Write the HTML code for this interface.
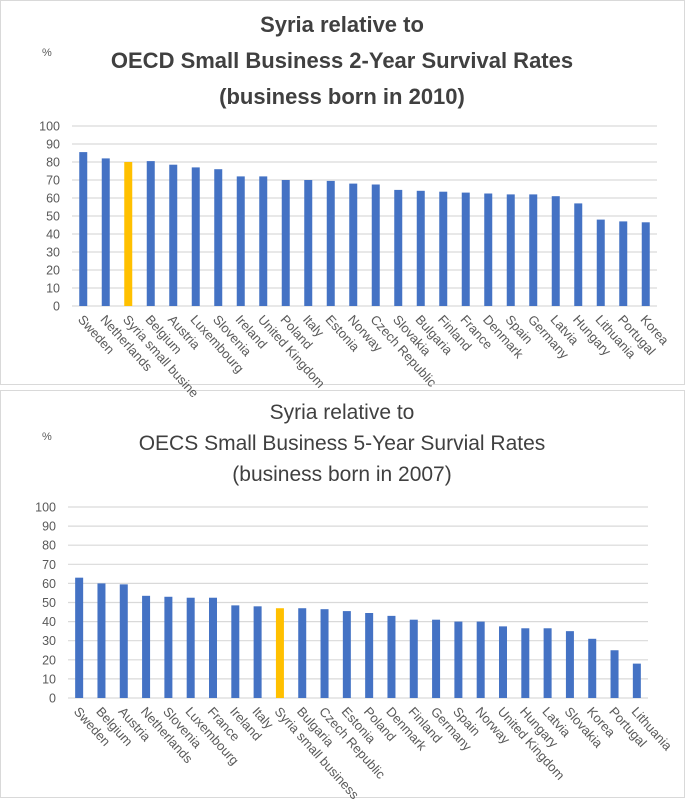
<!DOCTYPE html>
<html><head><meta charset="utf-8"><style>
body{margin:0;background:#fff;font-family:"Liberation Sans",sans-serif}
svg text{font-family:"Liberation Sans",sans-serif}
</style></head><body>
<svg id="svg" width="685" height="799" xmlns="http://www.w3.org/2000/svg">
<rect x="0.5" y="0.5" width="684" height="384" fill="#fff" stroke="#d9d9d9"/>
<rect x="0.5" y="390.5" width="684" height="407" fill="#fff" stroke="#d9d9d9"/>
<g fill="#404040" font-weight="bold" font-size="22" text-anchor="middle">
<text x="342" y="32">Syria relative to</text>
<text x="342" y="68">OECD Small Business 2-Year Survival Rates</text>
<text x="342" y="104">(business born in 2010)</text>
</g>
<g fill="#404040" font-size="21" text-anchor="middle">
<text x="342" y="419">Syria relative to</text>
<text x="342" y="450">OECS Small Business 5-Year Survial Rates</text>
<text x="342" y="481">(business born in 2007)</text>
</g>
<text x="42" y="56" font-size="11" fill="#595959">%</text>
<text x="42" y="440" font-size="11" fill="#595959">%</text>
</svg>
<script>
const ticks=[0,10,20,30,40,50,60,70,80,90,100];
const cats1=["Sweden","Netherlands","Syria small busine","Belgium","Austria","Luxembourg","Slovenia","Ireland","United Kingdom","Poland","Italy","Estonia","Norway","Czech Republic","Slovakia","Bulgaria","Finland","France","Denmark","Spain","Germany","Latvia","Hungary","Lithuania","Portugal","Korea"];
const vals1=[85.5,82,80,80.5,78.5,77,76,72,72,70,70,69.5,68,67.5,64.5,64,63.5,63,62.5,62,62,61,57,48,47,46.5];
const cats2=["Sweden","Belgium","Austria","Netherlands","Slovenia","Luxembourg","France","Ireland","Italy","Syria small business","Bulgaria","Czech Republic","Estonia","Poland","Denmark","Finland","Germany","Spain","Norway","United Kingdom","Hungary","Latvia","Slovakia","Korea","Portugal","Lithuania"];
const vals2=[63,60,59.5,53.5,53,52.5,52.5,48.5,48,47,47,46.5,45.5,44.5,43,41,41,40,40,37.5,36.5,36.5,35,31,25,18];
const NS="http://www.w3.org/2000/svg";
const svg=document.getElementById('svg');
function mk(t,a){const e=document.createElementNS(NS,t);for(const k in a)e.setAttribute(k,a[k]);return e;}
function chart(cats,vals,x0,x1,yTop,yBot,pfx){
  const g=mk('g',{});
  
  
  svg.appendChild(g);
  const y=v=>yBot-(v/100)*(yBot-yTop);
  const step=(x1-x0)/cats.length;
  const x=i=>x0+step*(i+0.5);
  ticks.forEach(t=>{
    const l=mk('line',{x1:x0,x2:x1,y1:y(t),y2:y(t),stroke:'#d9d9d9','stroke-width':1.2});
    
    
    g.appendChild(l);
    const tx=mk('text',{x:x0-12,y:y(t)+4.5,'font-size':12.5,fill:'#595959','text-anchor':'end'});
    tx.textContent=t;
    
    
    g.appendChild(tx);
  });
  cats.forEach((c,i)=>{
    const r=mk('rect',{x:x(i)-4,y:y(vals[i]),width:8,height:yBot-y(vals[i]),fill:c.startsWith('Syria')?'#ffc000':'#4472c4'});
    
    
    g.appendChild(r);
    const tx=mk('text',{'font-size':13,fill:'#595959',transform:`translate(${x(i)-6},${yBot+14}) rotate(48)`});
    tx.textContent=c;
    
    
    g.appendChild(tx);
  });
}
chart(cats1,vals1,72,657,126,306,'top');
chart(cats2,vals2,68,648,507,698,'bottom');
</script>
</body></html>
